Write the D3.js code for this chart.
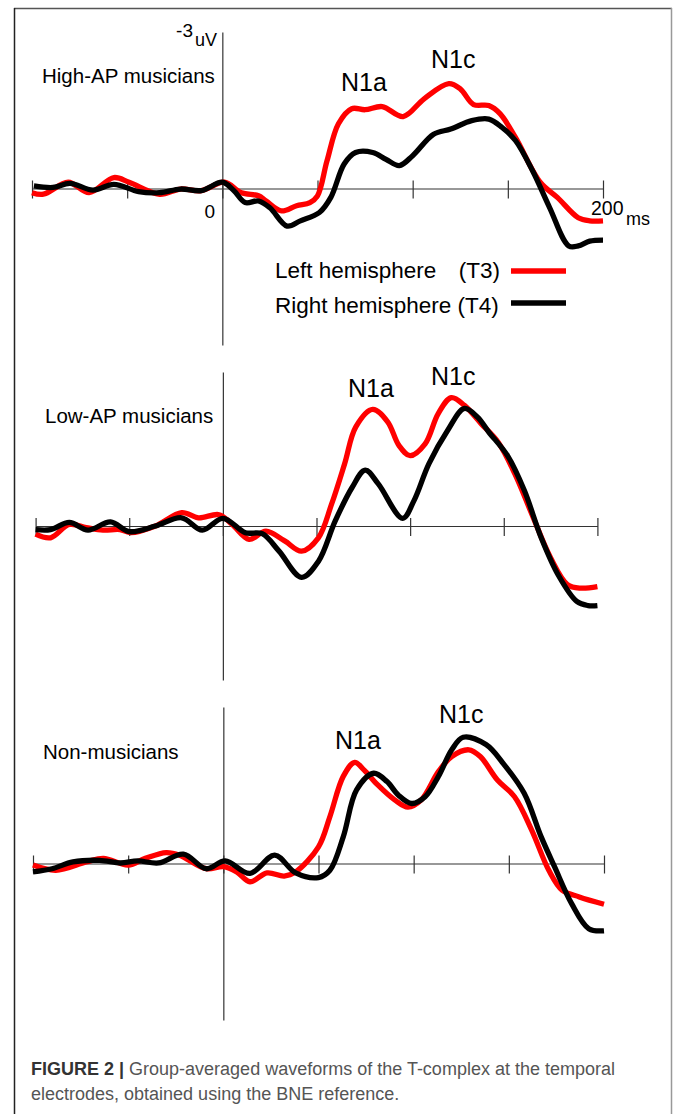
<!DOCTYPE html>
<html>
<head>
<meta charset="utf-8">
<script src="https://cdn.jsdelivr.net/npm/d3@7"></script>
<style>
  body { margin: 0; background: #fff; }
  svg { display: block; font-family: "Liberation Sans", Arial, sans-serif; }
</style>
</head>
<body>
<svg width="673" height="1114"></svg>
<script>
// time in ms, amplitude in uV (negative up, as in the original plot)
var hiT3t = [-100, -94, -81, -70, -57, -49, -33, -22, -11, 1, 10, 19, 23, 31, 39, 46, 50, 55, 61, 68, 75, 84, 95, 106, 119, 125, 132, 140, 146, 154, 167, 176, 187, 193, 200];
var hiT3v = [0.08, 0.11, -0.12, 0.08, -0.21, -0.12, 0.11, 0.01, 0.04, -0.12, 0.08, 0.14, 0.24, 0.43, 0.33, 0.27, 0.14, -0.53, -1.24, -1.53, -1.51, -1.57, -1.38, -1.72, -2.01, -1.91, -1.61, -1.59, -1.43, -0.98, -0.12, 0.17, 0.56, 0.62, 0.62];
var hiT4t = [-99, -89, -80, -68, -57, -44, -33, -22, -11, 0, 6, 12, 19, 25, 34, 41, 51, 57, 64, 70, 79, 86, 93, 100, 111, 120, 131, 140, 147, 154, 163, 172, 182, 187, 193, 200];
var hiT4v = [-0.05, -0.02, -0.10, 0.03, -0.08, 0.06, 0.08, 0.01, 0.04, -0.12, 0.04, 0.27, 0.24, 0.37, 0.72, 0.62, 0.46, 0.17, -0.47, -0.69, -0.69, -0.56, -0.44, -0.63, -1.04, -1.14, -1.30, -1.33, -1.17, -0.92, -0.34, 0.37, 1.10, 1.10, 1.01, 0.99];

var loT3t = [-100, -92, -82, -73, -64, -55, -49, -36, -22, -13, -2, 5, 14, 23, 33, 42, 51, 58, 65, 71, 80, 88, 94, 100, 108, 115, 122, 129, 138, 147, 156, 165, 175, 184, 191, 200];
var loT3v = [0.16, 0.23, -0.03, 0.03, 0.08, 0.07, 0.13, 0, -0.26, -0.16, -0.22, -0.03, 0.26, 0.10, 0.29, 0.49, 0.23, -0.42, -1.21, -1.93, -2.27, -2.03, -1.57, -1.37, -1.60, -2.19, -2.50, -2.35, -1.99, -1.63, -1.01, -0.23, 0.62, 1.14, 1.21, 1.18];
var loT4t = [-100, -92, -82, -72, -60, -50, -36, -22, -11, 0, 12, 21, 30, 42, 51, 60, 69, 76, 83, 96, 102, 110, 120, 129, 136, 142, 152, 161, 170, 179, 189, 195, 200];
var loT4v = [0.07, 0.07, -0.07, 0.08, -0.08, 0.11, 0, -0.16, 0.08, -0.15, 0.13, 0.15, 0.49, 1.00, 0.69, -0.10, -0.75, -1.09, -0.82, -0.15, -0.49, -1.21, -1.86, -2.29, -2.12, -1.83, -1.37, -0.69, 0.23, 0.95, 1.47, 1.55, 1.55];

var nmT3t = [-100, -88, -72, -63, -50, -41, -30, -23, -9, 0, 7, 14, 23, 32, 38, 50, 56, 63, 69, 74, 81, 90, 97, 104, 113, 120, 129, 135, 144, 153, 162, 171, 178, 187, 200];
var nmT3v = [0.03, 0.13, -0.03, -0.10, 0.03, -0.10, -0.21, -0.16, 0.10, 0.06, 0.16, 0.35, 0.18, 0.24, 0.16, -0.32, -0.90, -1.67, -1.94, -1.79, -1.51, -1.22, -1.08, -1.22, -1.76, -2.05, -2.18, -2.05, -1.60, -1.28, -0.64, 0.13, 0.51, 0.64, 0.78];
var nmT4t = [-100, -90, -79, -65, -54, -45, -34, -21, -9, 1, 14, 27, 38, 50, 56, 63, 70, 79, 86, 92, 99, 106, 113, 120, 126, 138, 147, 158, 167, 174, 183, 192, 200];
var nmT4v = [0.16, 0.10, -0.03, -0.06, -0.01, -0.05, -0.01, -0.18, 0.10, -0.05, 0.19, -0.16, 0.18, 0.27, 0.13, -0.51, -1.41, -1.73, -1.57, -1.31, -1.15, -1.28, -1.67, -2.18, -2.42, -2.28, -1.92, -1.35, -0.51, 0.06, 0.77, 1.25, 1.29];

var groups = ["High-AP musicians", "Low-AP musicians", "Non-musicians"];
var xTicks = [-100, -50, 0, 50, 100, 150, 200];
var peakNames = ["N1a", "N1c"];
var legendNames = ["Left hemisphere", "Right hemisphere"];
var legendElectrodes = ["(T3)", "(T4)"];

var svg = d3.select("svg");

// frame
svg.append("line").attr("x1", 14).attr("x2", 672).attr("y1", 8.5).attr("y2", 8.5).attr("stroke", "#555").attr("stroke-width", 1.5);
svg.append("line").attr("x1", 14.5).attr("x2", 14.5).attr("y1", 8).attr("y2", 1114).attr("stroke", "#222").attr("stroke-width", 1.5);
svg.append("line").attr("x1", 671.5).attr("x2", 671.5).attr("y1", 8).attr("y2", 1114).attr("stroke", "#999").attr("stroke-width", 1.5);

// panel layout (pixels)
var panels = [
  { left: 32, right: 603, top: 32, bottom: 345, t3: [hiT3t, hiT3v], t4: [hiT4t, hiT4v],
    label: [42, 83], peaks: [[341, 91], [431, 68]] },
  { left: 35.6, right: 597.4, top: 372, bottom: 680, t3: [loT3t, loT3v], t4: [loT4t, loT4v],
    label: [45, 423], peaks: [[348, 397], [431, 385]] },
  { left: 33, right: 604, top: 707, bottom: 1020, t3: [nmT3t, nmT3v], t4: [nmT4t, nmT4v],
    label: [43, 759], peaks: [[335, 749], [439, 723]] }
];

var line = d3.line().curve(d3.curveCatmullRom.alpha(0.5));

panels.forEach(function(p, i) {
  var x = d3.scaleLinear().domain([-100, 200]).range([p.left, p.right]);
  var y = d3.scaleLinear().domain([-3, 3]).range([p.top, p.bottom]);
  var g = svg.append("g");

  // vertical amplitude axis
  g.append("g")
    .attr("transform", "translate(" + x(0) + ",0)")
    .call(d3.axisLeft(y).ticks(0).tickSizeOuter(0))
    .select(".domain").attr("stroke", "#333").attr("stroke-width", 1.2);

  // time axis
  var ax = g.append("g")
    .attr("transform", "translate(0," + y(0) + ")")
    .call(d3.axisBottom(x).tickValues(xTicks).tickFormat("").tickSizeOuter(0));
  ax.select(".domain").attr("stroke", "#333").attr("stroke-width", 1.2);
  ax.selectAll(".tick line").attr("y1", -8).attr("y2", 10).attr("stroke", "#333").attr("stroke-width", 1.2);

  [[p.t3, "#ff0000"], [p.t4, "#000"]].forEach(function(s) {
    var pts = s[0][0].map(function(t, k) { return [x(t), y(s[0][1][k])]; });
    g.append("path")
      .attr("d", line(pts))
      .attr("fill", "none")
      .attr("stroke", s[1])
      .attr("stroke-width", 5.3)
      .attr("stroke-linejoin", "round");
  });

  g.append("text")
    .attr("x", p.label[0]).attr("y", p.label[1])
    .attr("font-size", 20.5)
    .text(groups[i]);

  peakNames.forEach(function(n, k) {
    g.append("text")
      .attr("x", p.peaks[k][0]).attr("y", p.peaks[k][1])
      .attr("font-size", 25)
      .text(n);
  });

  if (i === 0) {
    g.append("text").attr("x", 193).attr("y", 37).attr("font-size", 19).attr("text-anchor", "end").text("-3");
    g.append("text").attr("x", 217).attr("y", 46).attr("font-size", 18).attr("text-anchor", "end").text("uV");
    g.append("text").attr("x", 215).attr("y", 218).attr("font-size", 19).attr("text-anchor", "end").text("0");
    g.append("text").attr("x", 591).attr("y", 215).attr("font-size", 19.5).text("200");
    g.append("text").attr("x", 626).attr("y", 225).attr("font-size", 18).text("ms");

    var leg = [[278, 271, "#ff0000"], [313, 303, "#000"]];
    leg.forEach(function(l, k) {
      if (k === 0) {
        g.append("text").attr("x", 275).attr("y", l[0]).attr("font-size", 22.5).text(legendNames[k]);
        g.append("text").attr("x", 500).attr("y", l[0]).attr("font-size", 22.5).attr("text-anchor", "end").text(legendElectrodes[k]);
      } else {
        g.append("text").attr("x", 275).attr("y", l[0]).attr("font-size", 22.5).text(legendNames[k] + " " + legendElectrodes[k]);
      }
      g.append("line").attr("x1", 511).attr("x2", 566).attr("y1", l[1]).attr("y2", l[1])
        .attr("stroke", l[2]).attr("stroke-width", 5.3);
    });
  }
});

// caption
var cap = svg.append("text").attr("font-size", 18).attr("fill", "#555");
cap.append("tspan").attr("x", 31).attr("y", 1075)
  .attr("font-weight", "bold").attr("fill", "#333").text("FIGURE 2 | ");
cap.append("tspan").text("Group-averaged waveforms of the T-complex at the temporal");
cap.append("tspan").attr("x", 31).attr("y", 1100).text("electrodes, obtained using the BNE reference.");
</script>
</body>
</html>
